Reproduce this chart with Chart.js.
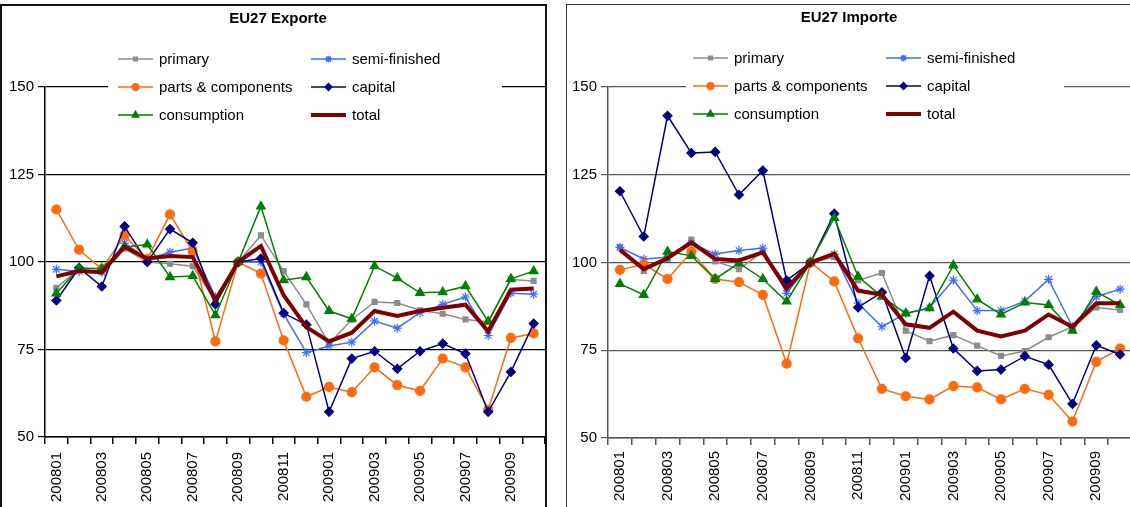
<!DOCTYPE html>
<html>
<head>
<meta charset="utf-8">
<script src="https://cdn.jsdelivr.net/npm/chart.js@4.4.1/dist/chart.umd.min.js"></script>
<style>
  body { margin: 0; background: #fff; width: 1130px; height: 507px; overflow: hidden; position: relative; }
  .panel { position: absolute; top: 4px; border-bottom: none; }
  canvas { display: block; }
</style>
</head>
<body>
<div class="panel" style="left:0px; width:543px; height:501px; border:2px solid #111; border-bottom:none;"><canvas id="exportChart" width="543" height="501"></canvas></div>
<div class="panel" style="left:566px; width:566px; height:502px; border:1px solid #333; border-bottom:none;"><canvas id="importChart" width="565" height="501"></canvas></div>
<script>
// months 2008-01 .. 2009-10
const months = ['200801','200802','200803','200804','200805','200806','200807','200808','200809','200810','200811','200812',
                '200901','200902','200903','200904','200905','200906','200907','200908','200909','200910'];
const yTicks = [50, 75, 100, 125, 150];

// EU27 Exporte
const expPrimary     = [92.6, 98.0, 97.1, 103.8, 100.0, 99.5, 98.8, 88.8, 100, 107.6, 97.4, 87.9, 76.7, 83.5, 88.6, 88.3, 86.2, 85.2, 83.6, 82.9, 95.0, 94.6];
const expSemi        = [97.9, 97.3, 97.1, 105.4, 100.8, 102.8, 104.0, 90.0, 100, 100.0, 85.2, 74.1, 76.0, 77.1, 83.1, 81.1, 85.5, 87.9, 90.0, 79.0, 91.1, 90.8];
const expParts       = [115.0, 103.5, 98.0, 107.6, 100.8, 113.6, 103.0, 77.3, 100, 96.7, 77.6, 61.5, 64.3, 62.8, 69.9, 64.8, 63.2, 72.4, 69.9, 57.8, 78.3, 79.6];
const expCapital     = [89.0, 98.3, 93.0, 110.2, 100.0, 109.4, 105.5, 87.9, 100, 101.0, 85.4, 82.1, 57.2, 72.4, 74.5, 69.5, 74.5, 76.7, 73.8, 57.2, 68.6, 82.4];
const expConsumption = [91.0, 98.3, 98.1, 104.3, 105.0, 95.7, 96.0, 84.8, 100, 115.9, 94.8, 95.7, 86.0, 83.8, 98.8, 95.4, 91.2, 91.4, 93.1, 83.0, 95.2, 97.4];
const expTotal       = [95.9, 97.4, 97.1, 104.3, 101.0, 101.7, 101.4, 89.0, 100, 104.6, 90.5, 81.4, 77.3, 79.8, 86.0, 84.6, 86.0, 86.9, 87.8, 80.2, 92.1, 92.4];

// EU27 Importe
const impPrimary     = [104.4, 97.6, 101.0, 106.5, 100.3, 98.1, 103.1, 93.6, 100, 101.5, 94.9, 97.0, 80.6, 77.6, 79.3, 76.3, 73.4, 74.8, 78.7, 81.7, 87.2, 86.5];
const impSemi        = [104.3, 101.0, 101.5, 105.5, 102.4, 103.4, 104.1, 91.2, 100, 102.4, 88.4, 81.7, 85.5, 87.1, 95.0, 86.3, 86.3, 89.0, 95.2, 81.7, 90.3, 92.4];
const impParts       = [97.9, 99.5, 95.3, 103.0, 95.3, 94.4, 90.8, 71.2, 100, 94.6, 78.4, 64.0, 61.9, 61.0, 64.8, 64.4, 61.0, 64.0, 62.3, 54.7, 71.7, 75.5];
const impCapital     = [120.3, 107.4, 141.8, 131.2, 131.5, 119.3, 126.2, 94.9, 100, 113.9, 87.2, 91.5, 72.8, 96.2, 75.5, 69.1, 69.5, 73.3, 70.9, 59.7, 76.4, 73.8];
const impConsumption = [93.9, 90.8, 103.1, 101.9, 95.3, 99.8, 95.3, 88.9, 100, 112.7, 96.0, 90.3, 85.5, 87.0, 99.2, 89.5, 85.2, 88.6, 87.9, 80.6, 91.7, 87.9];
const impTotal       = [103.6, 98.1, 101.2, 105.7, 101.0, 100.6, 102.9, 92.5, 100, 102.5, 92.0, 90.8, 82.4, 81.4, 86.0, 80.6, 78.9, 80.6, 85.2, 81.7, 88.4, 88.4];

const FONT = '"Liberation Sans", Arial, sans-serif';

function series(label, data, color, style, radius, width, order) {
    return {
        label: label,
        data: data,
        borderColor: color,
        backgroundColor: color,
        borderWidth: width,
        pointStyle: style,
        pointRadius: radius,
        pointBorderWidth: 1.2,
        pointBackgroundColor: color,
        pointBorderColor: color,
        tension: 0,
        clip: false,
        order: order
    };
}

function buildSets(primary, semi, parts, capital, consumption, total) {
    return [
        series('primary', primary, '#8c8c8c', 'rect', 3.5, 1.5, 6),
        series('semi-finished', semi, '#3d6cff', 'star', 4.5, 1.5, 5),
        series('parts & components', parts, '#ff6a0e', 'circle', 4.5, 1.5, 4),
        series('capital', capital, '#000080', 'rectRot', 4.5, 1.5, 3),
        series('consumption', consumption, '#008000', 'triangle', 5, 1.5, 2),
        series('total', total, '#800000', false, 0, 4, 1)
    ];
}

// title + legend drawn over the plot, like the spreadsheet chart
const panelDecor = {
    id: 'panelDecor',
    afterDraw(chart, args, opts) {
        const ctx = chart.ctx;
        ctx.save();
        ctx.fillStyle = '#000';
        ctx.font = 'bold 15px ' + FONT;
        ctx.textAlign = 'center';
        ctx.textBaseline = 'middle';
        ctx.fillText(opts.title, opts.titleX, opts.titleY);

        ctx.fillStyle = '#fff';
        ctx.fillRect(opts.box[0], opts.box[1], opts.box[2], opts.box[3]);

        ctx.font = '15px ' + FONT;
        ctx.textAlign = 'left';
        chart.data.datasets.forEach(function(ds, i) {
            const x0 = opts.cols[i % 2];
            const y = opts.rows[Math.floor(i / 2)];
            ctx.strokeStyle = ds.borderColor;
            ctx.lineWidth = ds.label === 'total' ? 4 : 1.5;
            ctx.beginPath();
            ctx.moveTo(x0, y);
            ctx.lineTo(x0 + 35, y);
            ctx.stroke();
            if (ds.pointRadius > 0) {
                ctx.fillStyle = ds.borderColor;
                Chart.helpers.drawPoint(ctx, {pointStyle: ds.pointStyle, radius: ds.pointRadius * 0.75, borderWidth: 1, rotation: 0}, x0 + 17.5, y);
            }
            ctx.fillStyle = '#000';
            ctx.fillText(ds.label, x0 + 41, y + 1);
        });
        ctx.restore();
    }
};

function makeChart(id, sets, gridColor, decor, pad, xHeight, yWidth, labelPad) {
    new Chart(document.getElementById(id), {
        type: 'line',
        data: { labels: months, datasets: sets },
        options: {
            responsive: false,
            animation: false,
            layout: { padding: pad, autoPadding: false },
            plugins: {
                legend: { display: false },
                tooltip: { enabled: false },
                panelDecor: decor
            },
            scales: {
                x: {
                    offset: true,
                    grid: { offset: true, drawOnChartArea: false, drawTicks: true, tickLength: 7, color: gridColor, lineWidth: 1.5 },
                    border: { color: gridColor, width: 1.5 },
                    ticks: {
                        autoSkip: false,
                        maxRotation: 90,
                        minRotation: 90,
                        padding: labelPad,
                        color: '#000',
                        font: { family: FONT, size: 15 },
                        callback: function(v, i) { return i % 2 === 0 ? months[i] : ''; }
                    },
                    afterFit: function(scale) {
                        scale.height = xHeight;
                        scale.paddingLeft = 0;
                        scale.paddingRight = 0;
                    }
                },
                y: {
                    min: 50,
                    max: 150,
                    afterBuildTicks: function(scale) { scale.ticks = yTicks.map(function(v) { return {value: v}; }); },
                    grid: { color: gridColor, lineWidth: 1.2, tickLength: 7 },
                    border: { color: gridColor, width: 1.5 },
                    ticks: { padding: 4, color: '#000', font: { family: FONT, size: 15 } },
                    afterFit: function(scale) {
                        scale.width = yWidth;
                        scale.paddingTop = 0;
                        scale.paddingBottom = 0;
                    }
                }
            }
        },
        plugins: [panelDecor]
    });
}

makeChart('exportChart',
    buildSets(expPrimary, expSemi, expParts, expCapital, expConsumption, expTotal),
    '#000',
    { title: 'EU27 Exporte', titleX: 276, titleY: 13, box: [106, 41, 394, 82], cols: [116, 309], rows: [53, 81, 109] },
    { top: 81, right: 0, left: 0, bottom: 0 },
    70, 43, 8);

makeChart('importChart',
    buildSets(impPrimary, impSemi, impParts, impCapital, impConsumption, impTotal),
    '#555',
    { title: 'EU27 Importe', titleX: 282, titleY: 13, box: [119, 41, 378, 82], cols: [126, 319], rows: [53, 81, 109] },
    { top: 82, right: 0, left: 0, bottom: 0 },
    68, 41, 6);
</script>
</body>
</html>
